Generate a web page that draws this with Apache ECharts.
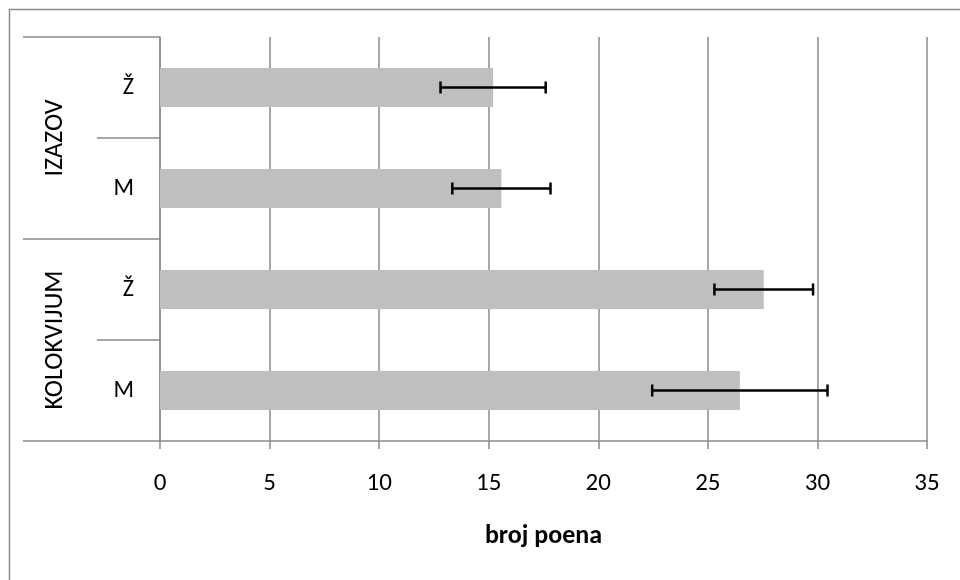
<!DOCTYPE html>
<html>
<head>
<meta charset="utf-8">
<script src="https://cdn.jsdelivr.net/npm/echarts@6/dist/echarts.min.js"></script>
<style>html,body{margin:0;padding:0;background:#fff}#c{width:960px;height:580px}</style>
</head>
<body>
<div id="c"></div>
<script>
// Data (bottom to top)
const groups = ['KOLOKVIJUM', 'IZAZOV'];
const categories = ['M', 'Ž', 'M', 'Ž'];
const means = [26.46, 27.55, 15.58, 15.2];
const errors = [4.0, 2.25, 2.24, 2.4];
const xTicks = [0, 5, 10, 15, 20, 25, 30, 35];

const FONT = 'Carlito, Lato, "Liberation Sans", sans-serif';
const GRID_COLOR = '#8a8a8a';

const errData = means.map((m, i) => [i, m - errors[i], m + errors[i]]);

const chart = echarts.init(document.getElementById('c'), null, {renderer: 'canvas'});
chart.setOption({
  animation: false,
  backgroundColor: '#fff',
  graphic: [{
    type: 'rect', silent: true,
    shape: {x: 9.5, y: 9.5, width: 1000, height: 1000},
    style: {fill: 'none', stroke: '#8a8a8a', lineWidth: 1.5}
  }],
  grid: {left: 160, right: 33, top: 37, bottom: 139, containLabel: false},
  xAxis: {
    type: 'value', min: xTicks[0], max: xTicks[xTicks.length - 1], interval: 5,
    axisLine: {show: true, lineStyle: {color: GRID_COLOR, width: 1.5}},
    axisTick: {show: true, length: 8, lineStyle: {color: GRID_COLOR, width: 1.5}},
    splitLine: {show: true, lineStyle: {color: GRID_COLOR, width: 1.5}},
    axisLabel: {color: '#000', fontFamily: FONT, fontSize: 25, margin: 30},
    name: 'broj poena', nameLocation: 'middle', nameGap: 82,
    nameTextStyle: {color: '#000', fontFamily: FONT, fontSize: 26, fontWeight: 'bold'}
  },
  yAxis: [{
    type: 'category', data: categories, position: 'left',
    axisLine: {show: true, lineStyle: {color: GRID_COLOR, width: 1.5}},
    axisTick: {show: true, length: 63, lineStyle: {color: GRID_COLOR, width: 1.5}},
    axisLabel: {color: '#000', fontFamily: FONT, fontSize: 24, margin: 26},
    splitLine: {show: false}
  }, {
    type: 'category', data: groups, position: 'left', offset: 0,
    axisLine: {show: false},
    axisTick: {show: true, length: 137, lineStyle: {color: GRID_COLOR, width: 1.5}},
    axisLabel: {color: '#000', fontFamily: FONT, fontSize: 26, rotate: 90, margin: 92},
    splitLine: {show: false}
  }],
  series: [{
    type: 'bar', yAxisIndex: 0, data: means,
    barWidth: 39,
    itemStyle: {color: '#bfbfbf'},
    z: 2
  }, {
    type: 'custom', yAxisIndex: 0, data: errData,
    encode: {x: [1, 2], y: 0},
    z: 5,
    renderItem: function (params, api) {
      const c = api.value(0);
      const lo = api.coord([api.value(1), c]);
      const hi = api.coord([api.value(2), c]);
      const h = 6;
      const st = {stroke: '#000', lineWidth: 2.5};
      return {type: 'group', children: [
        {type: 'line', shape: {x1: lo[0], y1: lo[1], x2: hi[0], y2: hi[1]}, style: st},
        {type: 'line', shape: {x1: lo[0], y1: lo[1] - h, x2: lo[0], y2: lo[1] + h}, style: st},
        {type: 'line', shape: {x1: hi[0], y1: hi[1] - h, x2: hi[0], y2: hi[1] + h}, style: st}
      ]};
    }
  }]
});
</script>
</body>
</html>
